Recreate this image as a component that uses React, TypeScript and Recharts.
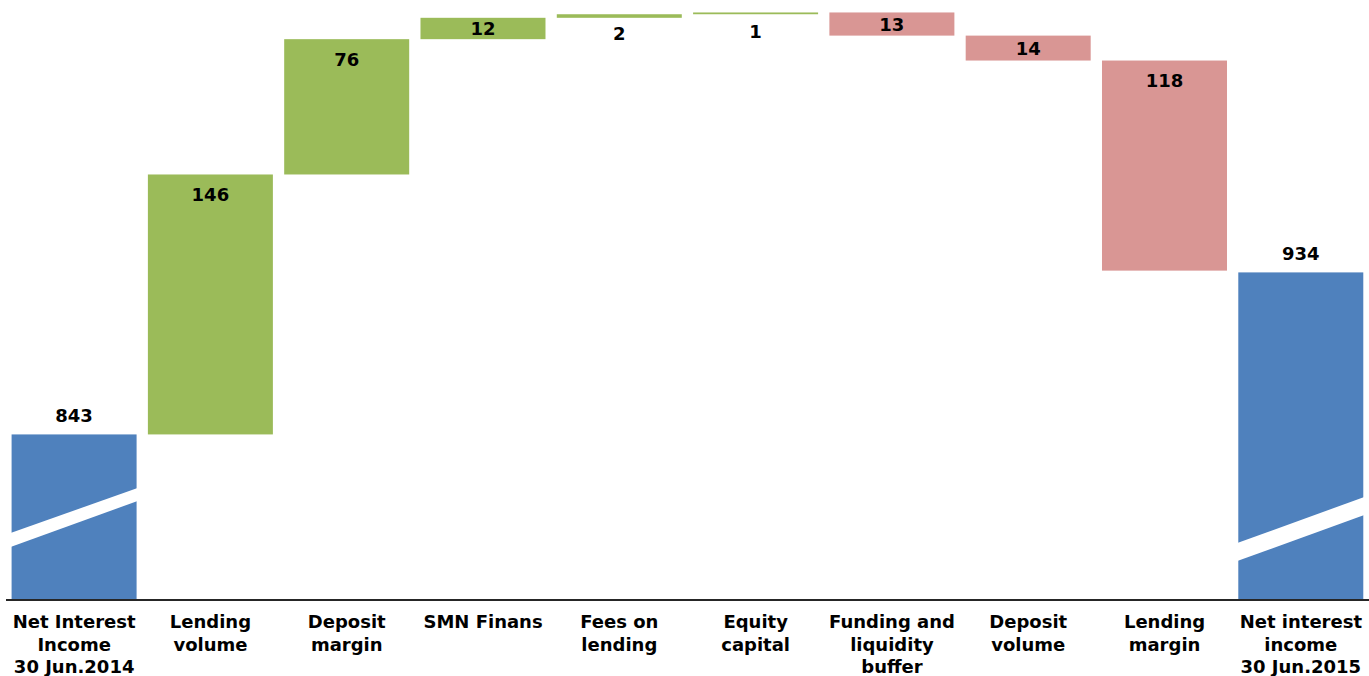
import { BarChart, Bar, XAxis, YAxis, Cell } from "recharts"

// waterfall: net interest income bridge, NOK million
const categories = [
  "Net Interest\nIncome\n30 Jun.2014",
  "Lending\nvolume",
  "Deposit\nmargin",
  "SMN Finans",
  "Fees on\nlending",
  "Equity\ncapital",
  "Funding and\nliquidity\nbuffer",
  "Deposit\nvolume",
  "Lending\nmargin",
  "Net interest\nincome\n30 Jun.2015",
]
const changes = [843, 146, 76, 12, 2, 1, -13, -14, -118, 934]
const isTotal = [true, false, false, false, false, false, false, false, false, true]

// the value axis is broken: it starts at 750, not 0
const AXIS_FLOOR = 750
const AXIS_TOP = 1087

const BLUE = "#4F81BD"
const GREEN = "#9BBB59"
const RED = "#D99694"

let running = 0
const data = categories.map((name, i) => {
  const v = changes[i]
  let range: [number, number]
  if (isTotal[i]) {
    range = [AXIS_FLOOR, v]
    running = v
  } else {
    const start = running
    running = running + v
    range = [Math.min(start, running), Math.max(start, running)]
  }
  return { name, range, label: Math.abs(v), total: isTotal[i], up: v >= 0 }
})

const FONT = "'DejaVu Sans', Verdana, sans-serif"

const WaterfallShape = (props: any) => {
  const { x, y, width, height, payload, index } = props
  const top = height < 0 ? y + height : y
  const h = Math.abs(height)
  const bottom = top + h
  const fill = payload.total ? BLUE : payload.up ? GREEN : RED

  let stripe = null
  if (payload.total) {
    // axis break marks
    const o = index === 0 ? [53, 67, 99, 112] : [39, 57, 85, 103]
    stripe = (
      <polygon
        points={`${x - 1},${bottom - o[0]} ${x - 1},${bottom - o[1]} ${x + width + 1},${bottom - o[3]} ${x + width + 1},${bottom - o[2]}`}
        fill="#ffffff"
      />
    )
  }

  let labelY
  if (payload.total) labelY = top - 19
  else if (h > 10) labelY = Math.min(top + 20, top + h / 2)
  else labelY = top + 19

  return (
    <g>
      <rect x={x} y={top} width={width} height={h} fill={fill} />
      {stripe}
      <text
        x={x + width / 2}
        y={labelY}
        textAnchor="middle"
        dominantBaseline="central"
        fontFamily={FONT}
        fontWeight="bold"
        fontSize={18}
        fill="#000"
      >
        {payload.label}
      </text>
    </g>
  )
}

const CategoryTick = (props: any) => {
  const { x, y, payload } = props
  const lines = String(payload.value).split("\n")
  return (
    <text
      x={x}
      y={y + 28}
      textAnchor="middle"
      fontFamily={FONT}
      fontWeight="bold"
      fontSize={18}
      fill="#000"
    >
      {lines.map((l, i) => (
        <tspan key={i} x={x} dy={i === 0 ? 0 : 22.5}>
          {l}
        </tspan>
      ))}
    </text>
  )
}

export default function App() {
  return (
    <div style={{ position: "absolute", top: 0, left: 0, background: "#fff" }}>
      <BarChart
        width={1369}
        height={676}
        data={data}
        margin={{ top: 0, right: 0, bottom: 0, left: 6 }}
        barCategoryGap="4.1%"
      >
        <XAxis
          dataKey="name"
          height={76}
          interval={0}
          tickLine={false}
          tickSize={0}
          tickMargin={0}
          axisLine={{ stroke: "#262626", strokeWidth: 2 }}
          tick={<CategoryTick />}
        />
        <YAxis hide domain={[AXIS_FLOOR, AXIS_TOP]} allowDataOverflow />
        <Bar dataKey="range" isAnimationActive={false} shape={<WaterfallShape />}>
          {data.map((d, i) => (
            <Cell key={i} fill={d.total ? BLUE : d.up ? GREEN : RED} />
          ))}
        </Bar>
      </BarChart>
    </div>
  )
}
